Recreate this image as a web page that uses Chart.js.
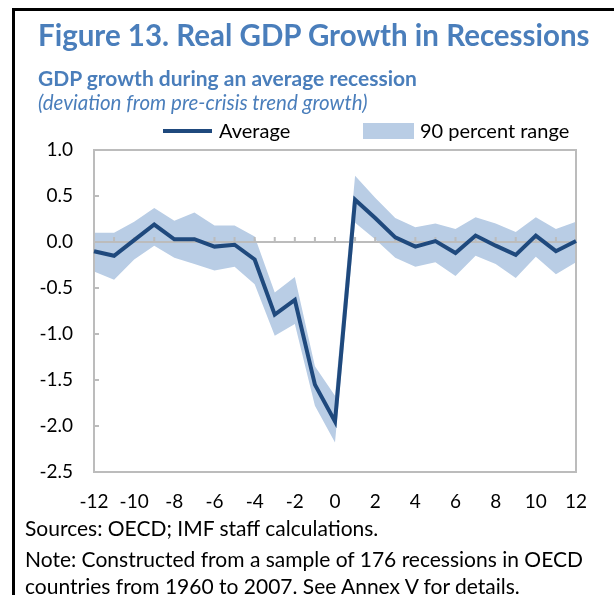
<!doctype html>
<html lang="en">

<head>
  <meta charset="utf-8">
  <title>Figure 13. Real GDP Growth in Recessions</title>
  <script src="https://cdn.jsdelivr.net/npm/chart.js"></script>
  <style>
    body { margin: 0; background: #fff; font-family: Lato, sans-serif; }
    .page { position: relative; width: 614px; height: 595px; overflow: hidden; }
    .page canvas { position: absolute; left: 0; top: 0; }
    .frame { position: absolute; left: 12px; top: 8px; right: 0; bottom: 0;
      border-left: 3px solid #000; border-top: 3px solid #000; }
    .txt { position: absolute; white-space: nowrap; line-height: 1; }
    .title { left: 38px; top: 20px; font-size: 29.5px; font-weight: bold; color: #4a7ebb; }
    .sub { left: 38px; top: 67px; font-size: 21px; font-weight: bold; color: #4a7ebb; }
    .unit { left: 38px; top: 92px; font-size: 20.5px; font-style: italic; color: #4a7ebb; }
    .legend { font-size: 20px; color: #000; top: 120px; }
    .key-line { position: absolute; left: 163px; top: 129px; width: 49px; height: 4px; background: #1f497d; }
    .key-box { position: absolute; left: 363px; top: 123px; width: 51px; height: 16px; background: #b9cde5; }
    .note { left: 25px; font-size: 21px; color: #000; }
  </style>
</head>

<body>
  <div class="page">
    <canvas id="gdp-chart" width="614" height="595"></canvas>
    <div class="frame"></div>
    <div class="txt title">Figure 13. Real GDP Growth in Recessions</div>
    <div class="txt sub">GDP growth during an average recession</div>
    <div class="txt unit">(deviation from pre-crisis trend growth)</div>
    <div class="key-line"></div>
    <div class="txt legend" style="left:219px">Average</div>
    <div class="key-box"></div>
    <div class="txt legend" style="left:420px">90 percent range</div>
    <div class="txt note" style="top:517px">Sources: OECD; IMF staff calculations.</div>
    <div class="txt note" style="top:548px">Note: Constructed from a sample of 176 recessions in OECD</div>
    <div class="txt note" style="top:575px">countries from 1960 to 2007. See Annex V for details.</div>
  </div>

  <script>
    // quarters relative to the start of the recession
    const quarters = [-12, -11, -10, -9, -8, -7, -6, -5, -4, -3, -2, -1, 0,
      1, 2, 3, 4, 5, 6, 7, 8, 9, 10, 11, 12];

    const average = [-0.10, -0.15, 0.02, 0.19, 0.03, 0.03, -0.05, -0.03, -0.19, -0.79, -0.63, -1.55, -1.95,
      0.46, 0.26, 0.05, -0.05, 0.01, -0.12, 0.07, -0.04, -0.14, 0.07, -0.10, 0.01];

    const rangeHigh = [0.10, 0.10, 0.22, 0.37, 0.23, 0.32, 0.18, 0.18, 0.06, -0.55, -0.38, -1.35, -1.67,
      0.72, 0.48, 0.26, 0.16, 0.20, 0.14, 0.27, 0.20, 0.11, 0.27, 0.14, 0.22];

    const rangeLow = [-0.32, -0.41, -0.19, -0.04, -0.17, -0.24, -0.31, -0.27, -0.46, -1.02, -0.89, -1.78, -2.18,
      0.21, 0.03, -0.17, -0.27, -0.22, -0.37, -0.15, -0.24, -0.39, -0.16, -0.35, -0.22];

    const axisGrey = '#bcbcbc';

    // plot border, y tick marks and the zero line with its quarter ticks,
    // drawn once the band is filled but before the average line
    const axesPlugin = {
      id: 'axesPlugin',
      afterDatasetDraw(chart, args) {
        if (args.index !== 1) return;
        const { ctx, chartArea: a, scales: { x, y } } = chart;
        const y0 = y.getPixelForValue(0);
        ctx.save();
        ctx.strokeStyle = axisGrey;
        ctx.lineWidth = 2;
        ctx.strokeRect(a.left, a.top, a.right - a.left, a.bottom - a.top);
        ctx.beginPath();
        ctx.moveTo(a.left, y0);
        ctx.lineTo(a.right, y0);
        x.ticks.forEach((t, i) => {
          const px = x.getPixelForTick(i);
          ctx.moveTo(px, y0);
          ctx.lineTo(px, y0 - 5);
        });
        y.ticks.forEach((t, i) => {
          const py = y.getPixelForTick(i);
          ctx.moveTo(a.left, py);
          ctx.lineTo(a.left + 5, py);
        });
        ctx.stroke();
        ctx.restore();
      }
    };

    // datasets are drawn last-to-first, so the average goes first to end up on top
    new Chart(document.getElementById('gdp-chart'), {
      type: 'line',
      data: {
        labels: quarters,
        datasets: [
          {
            data: average,
            borderColor: '#1f497d',
            borderWidth: 4,
            pointRadius: 0,
            borderJoinStyle: 'miter',
            fill: false
          },
          {
            data: rangeHigh,
            borderWidth: 0,
            pointRadius: 0,
            backgroundColor: '#b9cde5',
            fill: '+1'
          },
          {
            data: rangeLow,
            borderWidth: 0,
            pointRadius: 0,
            fill: false
          }
        ]
      },
      options: {
        responsive: false,
        animation: false,
        layout: {
          padding: { left: 0, top: 150, right: 38, bottom: 0 }
        },
        scales: {
          x: {
            grid: { display: false },
            border: { display: false },
            afterFit: (scale) => { scale.height = 123; },
            ticks: {
              autoSkip: false,
              maxRotation: 0,
              padding: 10,
              color: '#000',
              font: { family: 'Lato', size: 19 },
              callback: function (value, index) {
                return index % 2 == 0 ? this.getLabelForValue(value) : '';
              }
            }
          },
          y: {
            min: -2.5,
            max: 1.0,
            grid: { display: false },
            border: { display: false },
            afterFit: (scale) => { scale.width = 94; },
            ticks: {
              stepSize: 0.5,
              padding: 13,
              color: '#000',
              font: { family: 'Lato', size: 19 },
              callback: (value) => value.toFixed(1)
            }
          }
        },
        plugins: {
          legend: { display: false },
          tooltip: { enabled: false }
        }
      },
      plugins: [axesPlugin]
    });
  </script>
</body>

</html>
